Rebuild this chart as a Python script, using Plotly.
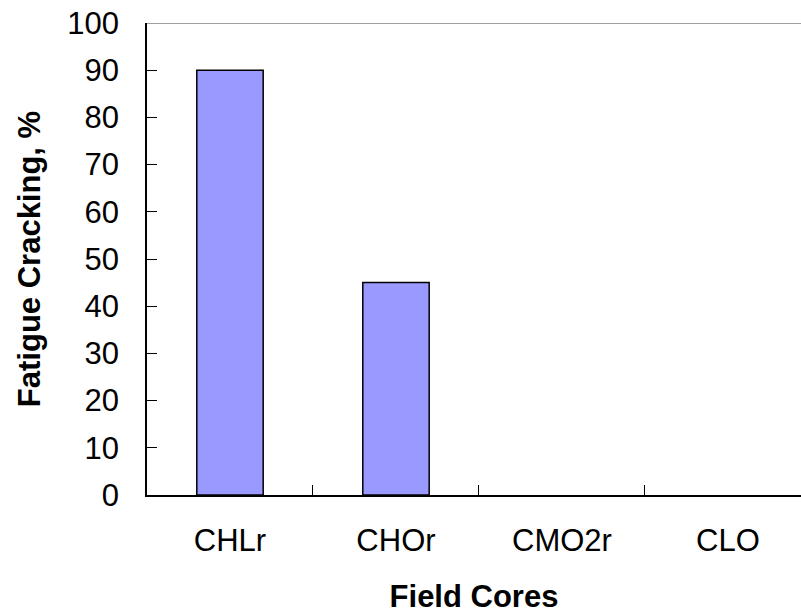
import plotly.graph_objects as go

# Fatigue cracking measured on each field core
cores = ["CHLr", "CHOr", "CMO2r", "CLO"]
cracking_pct = [90, 45, 0, 0]
y_ticks = [0, 10, 20, 30, 40, 50, 60, 70, 80, 90, 100]

font_family = "Liberation Sans, Arial, sans-serif"
FS = 31

# empty bars get no outline so nothing is drawn for them
outline_widths = [1.5 if v > 0 else 0 for v in cracking_pct]

fig = go.Figure(
    go.Bar(
        x=cores,
        y=cracking_pct,
        width=0.4,
        marker=dict(color="#9999FF", line=dict(color="#000000", width=outline_widths)),
    )
)

fig.update_layout(
    width=801,
    height=615,
    margin=dict(l=147, r=0, t=23, b=120),
    paper_bgcolor="white",
    plot_bgcolor="white",
    showlegend=False,
    font=dict(family=font_family, size=FS, color="black"),
    shapes=[
        dict(type="line", xref="paper", yref="y", x0=0, x1=1, y0=100, y1=100,
             line=dict(color="#808080", width=1.5), layer="below"),
    ],
)

fig.update_xaxes(
    type="category",
    range=[-0.5, 3.44],
    showline=True, linecolor="black", linewidth=1.5,
    ticks="inside", ticklen=10, tickwidth=1, tickcolor="black",
    tickson="boundaries",
    showgrid=False, zeroline=False,
    ticklabelstandoff=17,
    tickfont=dict(size=FS),
    title=dict(text="<b>Field Cores</b>", font=dict(size=FS), standoff=28),
)

fig.update_yaxes(
    range=[0, 100],
    tickvals=y_ticks,
    showline=True, linecolor="black", linewidth=1.5,
    ticks="inside", ticklen=10, tickwidth=1, tickcolor="black",
    showgrid=False, zeroline=False,
    ticklabelstandoff=20,
    tickfont=dict(size=FS),
    title=dict(text="<b>Fatigue Cracking, %</b>", font=dict(size=FS), standoff=17),
)

fig.write_html("out.html")
